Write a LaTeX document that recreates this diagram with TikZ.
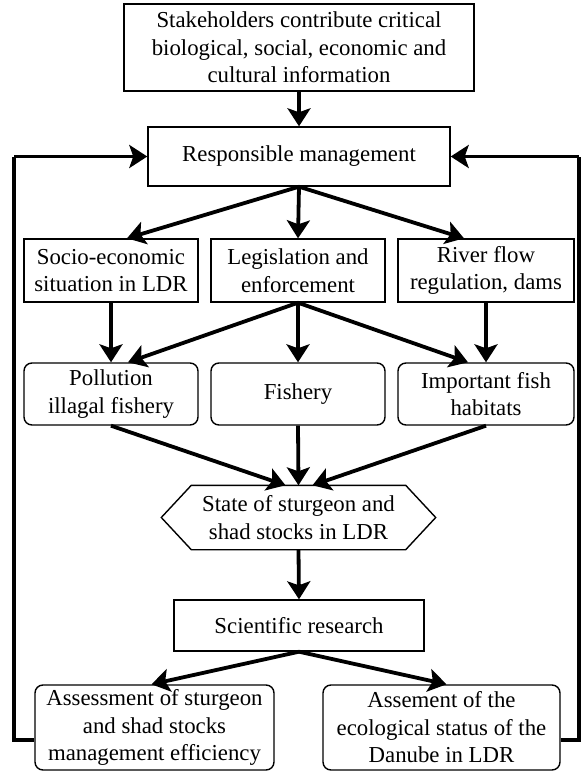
\documentclass[tikz,border=0pt]{standalone}
\usepackage{fontspec}
\setmainfont{Liberation Serif}
\usetikzlibrary{arrows.meta,calc}
\begin{document}
\begin{tikzpicture}[x=1pt,y=-1pt,
  box/.style={draw, line width=1.4pt, align=center, inner sep=0pt, font=\fontsize{22.8}{27.5}\selectfont},
  rbox/.style={box, rounded corners=8pt},
  arr/.style={line width=3.8pt, -{Stealth[length=18pt,width=23pt,inset=4pt]}},
  fb/.style={line width=3.6pt}]
\useasboundingbox (0,0) rectangle (584,772);
% top
\node[box, minimum width=350pt, minimum height=87pt] (stake) at (299,47.5) {Stakeholders contribute critical\\biological, social, economic and\\cultural information};
\node[box, minimum width=302pt, minimum height=59pt] (mgmt) at (299,156.5) {Responsible management};
% row 2
\node[box, minimum width=174pt, minimum height=63pt] (socio) at (111,270.5) {Socio-economic\\situation in LDR};
\node[box, minimum width=174pt, minimum height=63pt] (legis) at (298,270.5) {Legislation and\\enforcement};
\node[box, minimum width=176pt, minimum height=63pt] (river) at (486,270.5) {River flow\\regulation, dams};
% row 3
\node[rbox, minimum width=174pt, minimum height=62pt] (poll) at (111,394) {Pollution\\illagal fishery};
\node[rbox, minimum width=174pt, minimum height=62pt] (fish) at (298,394) {Fishery};
\node[rbox, minimum width=176pt, minimum height=62pt] (imp) at (486,394) {Important fish\\habitats};
% hexagon
\node[box, draw=none, minimum width=213pt, minimum height=63pt] (state) at (298.5,517.5) {State of sturgeon and\\shad stocks in LDR};
\draw[line width=1.4pt] (state.north west) -- (state.north east) -- ([xshift=30pt]state.east) -- (state.south east) -- (state.south west) -- ([xshift=-30pt]state.west) -- cycle;
% science
\node[box, minimum width=250pt, minimum height=51pt] (sci) at (299,625.5) {Scientific research};
\node[rbox, minimum width=239pt, minimum height=85pt] (assess) at (154.5,727.5) {Assessment of sturgeon\\and shad stocks\\management efficiency};
\node[rbox, minimum width=237pt, minimum height=85pt] (eco) at (441.5,727.5) {Assement of the\\ecological status of the\\Danube in LDR};
% arrows
\draw[arr] (stake.south) -- (mgmt.north);
\draw[arr] (mgmt.south) -- ([xshift=16pt]socio.north);
\draw[arr] (mgmt.south) -- (legis.north);
\draw[arr] (mgmt.south) -- ([xshift=-22pt]river.north);
\draw[arr] (socio.south) -- (poll.north);
\draw[arr] (legis.south) -- ([xshift=17pt]poll.north);
\draw[arr] (legis.south) -- (fish.north);
\draw[arr] (legis.south) -- ([xshift=-18pt]imp.north);
\draw[arr] (river.south) -- (imp.north);
\draw[arr] (poll.south) -- ([xshift=-13pt]state.north);
\draw[arr] (fish.south) -- (state.north);
\draw[arr] (imp.south) -- ([xshift=14pt]state.north);
\draw[arr] (state.south) -- (sci.north);
\draw[arr] (sci.south) -- ([xshift=-3pt]assess.north);
\draw[arr] (sci.south) -- ([xshift=5pt]eco.north);
% feedback
\coordinate (lc) at (14,740);
\coordinate (lt) at (14,156.5);
\coordinate (rc) at (579,740);
\coordinate (rt) at (579,156.5);
\draw[fb] (assess.west |- lc) -- (lc) -- (lt);
\draw[arr] (lt) -- (mgmt.west);
\draw[fb] (eco.east |- rc) -- (rc) -- (rt);
\draw[arr] (rt) -- (mgmt.east);
\end{tikzpicture}
\end{document}
